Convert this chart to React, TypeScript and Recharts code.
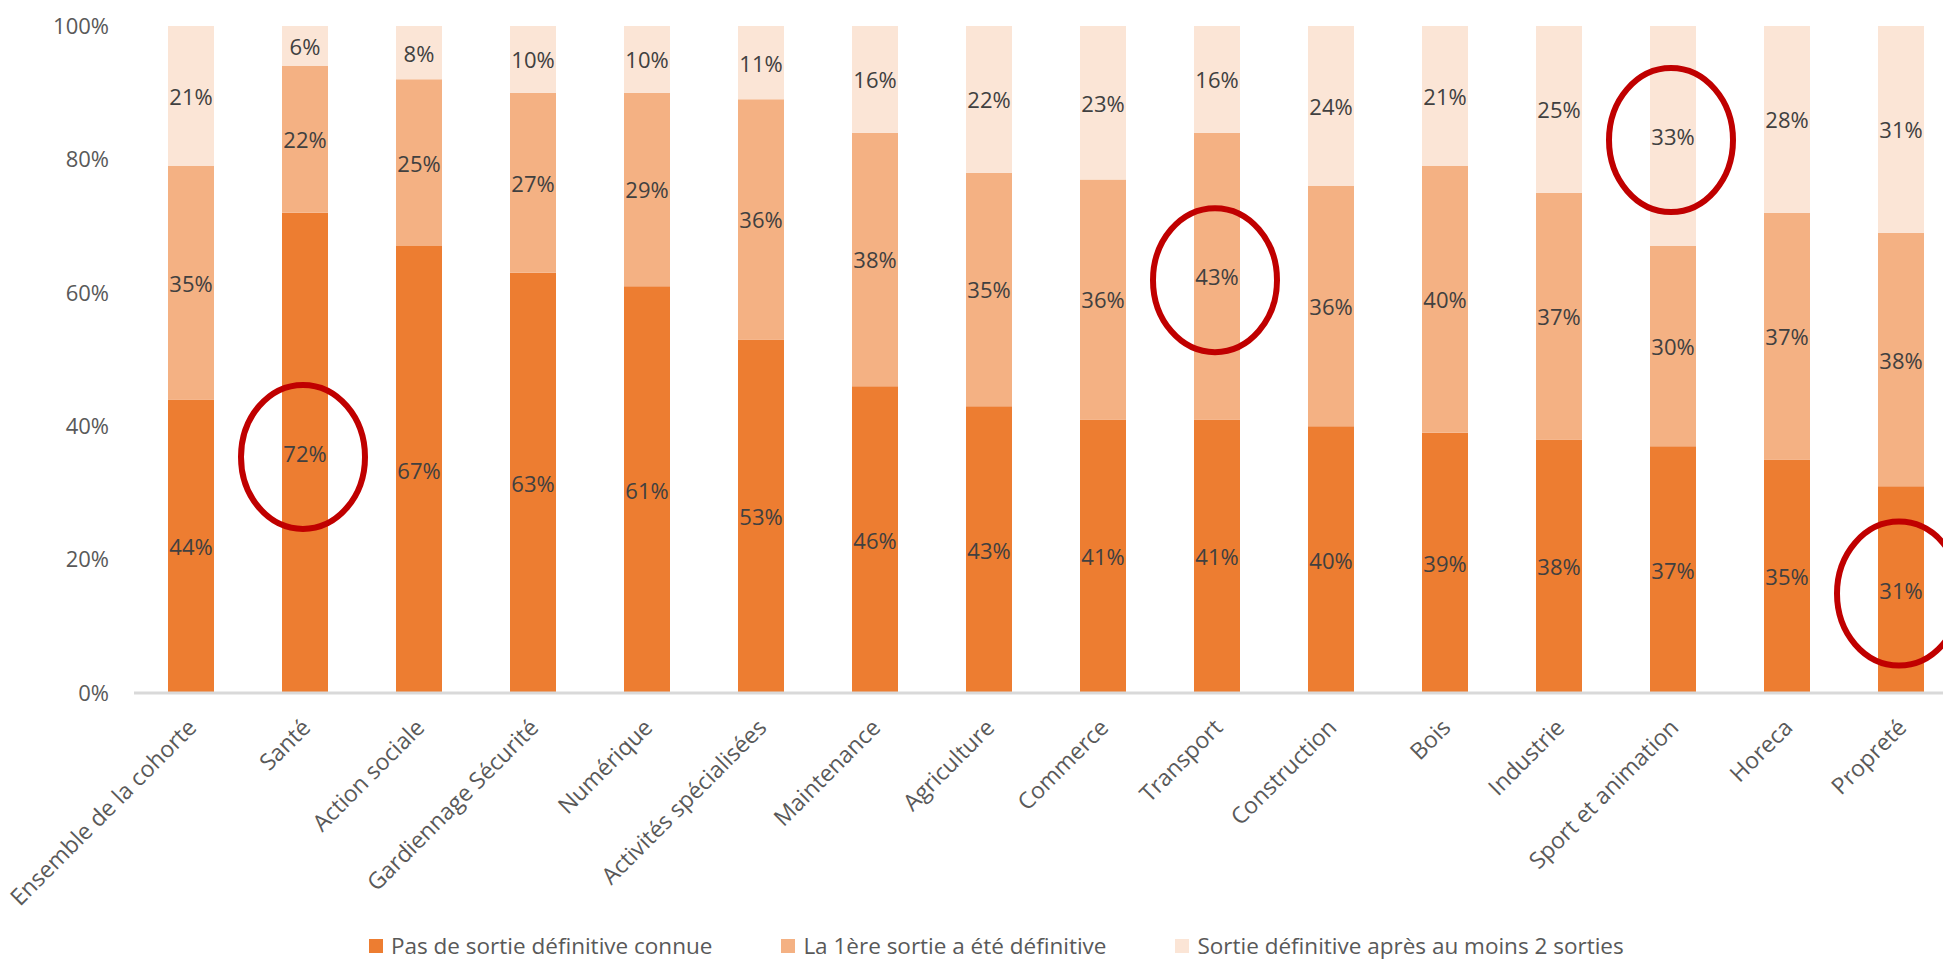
import { Bar, BarChart, LabelList, XAxis, YAxis } from "recharts";

const categories = [
  "Ensemble de la cohorte",
  "Santé",
  "Action sociale",
  "Gardiennage Sécurité",
  "Numérique",
  "Activités spécialisées",
  "Maintenance",
  "Agriculture",
  "Commerce",
  "Transport",
  "Construction",
  "Bois",
  "Industrie",
  "Sport et animation",
  "Horeca",
  "Propreté",
];
const pasDeSortie = [44, 72, 67, 63, 61, 53, 46, 43, 41, 41, 40, 39, 38, 37, 35, 31];
const premiereSortie = [35, 22, 25, 27, 29, 36, 38, 35, 36, 43, 36, 40, 37, 30, 37, 38];
const apresDeuxSorties = [21, 6, 8, 10, 10, 11, 16, 22, 23, 16, 24, 21, 25, 33, 28, 31];
const yTicks = [0, 20, 40, 60, 80, 100];

// circled values in the original picture
const highlighted = [
  { category: "Santé", series: "pas" },
  { category: "Transport", series: "premiere" },
  { category: "Sport et animation", series: "apres" },
  { category: "Propreté", series: "pas" },
];

const series = [
  { key: "pas", name: "Pas de sortie définitive connue", color: "#ED7D31" },
  { key: "premiere", name: "La 1ère sortie a été définitive", color: "#F4B183" },
  { key: "apres", name: "Sortie définitive après au moins 2 sorties", color: "#FBE5D6" },
];

const data = categories.map((category, i) => ({
  category,
  pas: pasDeSortie[i],
  premiere: premiereSortie[i],
  apres: apresDeuxSorties[i],
}));

const FONT = "'Open Sans', sans-serif";

function makeLabel(seriesKey: string) {
  return (props: any) => {
    const vb = props.viewBox ?? props;
    const { x, y, width, height } = vb;
    const cx = x + width / 2;
    const cy = y + height / 2;
    const cat = categories[props.index];
    const circled = highlighted.some((h) => h.category === cat && h.series === seriesKey);
    return (
      <g>
        <text
          x={cx}
          y={cy}
          textAnchor="middle"
          dominantBaseline="central"
          fontSize={22}
          fontFamily={FONT}
          fill="#404040"
        >
          {props.value}%
        </text>
        {circled && (
          <ellipse
            cx={cx - 2}
            cy={cy + 4}
            rx={62}
            ry={72}
            fill="none"
            stroke="#C00000"
            strokeWidth={6}
          />
        )}
      </g>
    );
  };
}

function CategoryTick({ x, y, payload }: any) {
  const ax = x + 7;
  const ay = y + 34;
  return (
    <text
      x={ax}
      y={ay}
      transform={`rotate(-45, ${ax}, ${ay})`}
      textAnchor="end"
      fontSize={23}
      fontFamily={FONT}
      fill="#595959"
    >
      {payload.value}
    </text>
  );
}

export default function App() {
  return (
    <div
      style={{
        position: "absolute",
        left: 0,
        top: 0,
        width: 1943,
        height: 963,
        overflow: "hidden",
        background: "#fff",
        fontFamily: FONT,
      }}
    >
      <BarChart
        width={1960}
        height={963}
        data={data}
        margin={{ top: 26, right: 2, left: 0, bottom: 0 }}
      >
        <XAxis
          dataKey="category"
          interval={0}
          height={270}
          tickLine={false}
          tickSize={0}
          axisLine={{ stroke: "#D9D9D9", strokeWidth: 3 }}
          tick={<CategoryTick />}
        />
        <YAxis
          width={134}
          domain={[0, 100]}
          ticks={yTicks}
          axisLine={false}
          tickLine={false}
          tickSize={0}
          tickMargin={25}
          tickFormatter={(v: number) => `${v}%`}
          tick={{ fontSize: 22, fill: "#595959", fontFamily: FONT }}
        />
        {series.map((s) => (
          <Bar
            key={s.key}
            dataKey={s.key}
            name={s.name}
            stackId="a"
            fill={s.color}
            barSize={46}
            isAnimationActive={false}
          >
            <LabelList dataKey={s.key} content={makeLabel(s.key)} />
          </Bar>
        ))}
      </BarChart>
      <div
        style={{
          position: "absolute",
          left: 369,
          top: 935,
          height: 22,
          lineHeight: "22px",
          display: "flex",
          alignItems: "center",
          gap: 69,
          fontSize: 22.5,
          color: "#595959",
          whiteSpace: "nowrap",
        }}
      >
        {series.map((s) => (
          <div key={s.key} style={{ display: "flex", alignItems: "center" }}>
            <span
              style={{
                display: "inline-block",
                width: 14,
                height: 14,
                background: s.color,
                marginRight: 8,
              }}
            />
            <span>{s.name}</span>
          </div>
        ))}
      </div>
    </div>
  );
}
